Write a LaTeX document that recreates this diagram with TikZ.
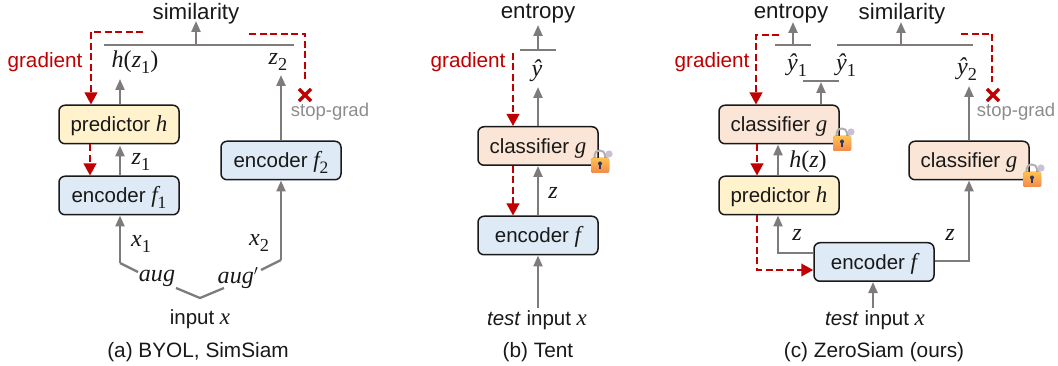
\documentclass[tikz,border=0pt]{standalone}
\usepackage{fontspec}
\usepackage{graphicx}
\setmainfont{Liberation Sans}
\newfontfamily\mfont{Liberation Serif}[Scale=1.12]
\newcommand{\mi}[1]{{\mfont\itshape #1}}
\newcommand{\mup}[1]{{\mfont #1}}
\newcommand{\msub}[2]{\mi{#1}\raisebox{-.28em}{\scalebox{.76}{\mup{#2}}}}
\usetikzlibrary{arrows.meta,shapes.misc}
\definecolor{linegray}{HTML}{7F7B7B}
\definecolor{gradred}{HTML}{C00000}
\definecolor{stopgray}{HTML}{8C8C8C}
\definecolor{predfill}{HTML}{FFF2CC}
\definecolor{encfill}{HTML}{DEEAF6}
\definecolor{clsfill}{HTML}{FBE5D6}
\definecolor{locktop}{HTML}{FFC24F}
\definecolor{lockbot}{HTML}{F5874A}
\definecolor{lockkey}{HTML}{C9C0D8}
\definecolor{lockring}{HTML}{B5AEB0}
\definecolor{lockhole}{HTML}{2F3560}
\tikzset{
  box/.style={draw=black!90,line width=1.5pt,rounded corners=6pt,minimum width=120pt,minimum height=38.5pt,inner sep=0pt,text height=17pt,text depth=2pt,font=\fontsize{20.5}{22}\selectfont,text=black!90},
  predbox/.style={box,fill=predfill},
  encbox/.style={box,fill=encfill},
  clsbox/.style={box,fill=clsfill},
  grayarrow/.style={draw=linegray,line width=2.3pt,-{Triangle[length=11pt,width=9pt]}},
  grayline/.style={draw=linegray,line width=2.3pt},
  redarrow/.style={draw=gradred,line width=2.2pt,dash pattern=on 7pt off 3.5pt,-{Triangle[length=12pt,width=12.5pt]}},
  redline/.style={draw=gradred,line width=2.2pt,dash pattern=on 7pt off 3.5pt},
  toptext/.style={inner sep=0pt,font=\fontsize{22.3}{24}\selectfont,text=black!90},
  gradtext/.style={inner sep=0pt,font=\fontsize{20.7}{22}\selectfont,text=gradred},
  stoptext/.style={inner sep=0pt,font=\fontsize{18.5}{21}\selectfont,text=stopgray},
  inputtext/.style={inner sep=0pt,font=\fontsize{20.5}{22}\selectfont,text=black!90},
  captext/.style={inner sep=0pt,font=\fontsize{20.8}{22}\selectfont,text=black!90},
  mathlabel/.style={inner sep=0pt,font=\fontsize{21.5}{23}\selectfont,text=black!90},
  crossmark/.style={cross out,draw=gradred,line width=3.2pt,minimum size=9pt,inner sep=0pt},
  lockicon/.pic={
    \fill[lockkey] (18,-4) circle (3.6);
    \draw[lockkey,line width=2pt] (16,-1) -- (13,2);
    \draw[lockring,line width=2pt] (3.5,2) -- (3.5,-3) .. controls (3.5,-9) and (14,-9) .. (14,-3) -- (14,2);
    \fill[rounded corners=1.5pt,top color=locktop,bottom color=lockbot] (0,0) rectangle (18,15);
    \fill[lockhole] (9,5.5) circle (2);
    \fill[lockhole] (8,6) rectangle (10,11.5);
  }
}
\begin{document}
\begin{tikzpicture}[x=1pt,y=-1pt]
\useasboundingbox (0,0) rectangle (1058,366);
% ---------- panel a
\node[predbox] (preda) at (119,124.5) {predictor \mi{h}};
\node[encbox] (enca) at (119,195.5) {encoder \msub{f}{1}};
\node[encbox] (encb) at (281,160.5) {encoder \msub{f}{2}};
\node[toptext] (sima) at (196,14) {similarity};
\node[mathlabel] (hz) at (135,62) {\mi{h}\mup{(}\msub{z}{1}\mup{)}};
\node[mathlabel] (ztwo) at (278,62) {\msub{z}{2}};
\node[mathlabel] (zone) at (141,162) {\msub{z}{1}};
\node[mathlabel] (xone) at (141,244) {\msub{x}{1}};
\node[mathlabel] (xtwo) at (259,243) {\msub{x}{2}};
\node[mathlabel] (auga) at (157,278) {\mi{aug}};
\node[mathlabel] (augb) at (238,278) {\mi{aug}$'$};
\node[inputtext] (inputa) at (200,319) {input \mi{x}};
\node[captext] (capa) at (198,352) {(a) BYOL, SimSiam};
\node[gradtext] (grada) at (45,62) {gradient};
\node[stoptext] (stopa) at (330,112) {stop-grad};
\node[crossmark] (crossa) at (305,95) {};
\coordinate (barAl) at (104,45);
\coordinate (barAr) at (294,45);
\coordinate (barAm) at (196,45);
\coordinate (augAa) at (138,272);
\coordinate (augAb) at (120,263);
\coordinate (augBa) at (176,288);
\coordinate (augBb) at (200,298);
\coordinate (augBc) at (224,288);
\coordinate (augCa) at (261,270);
\coordinate (augCb) at (281,260);
\draw[grayline] (barAl) -- (barAr);
\draw[grayarrow] (barAm) -- (196,21);
\draw[grayarrow] (preda.north -| 120,0) -- (120,79);
\draw[grayarrow] (enca.north -| 120,0) -- (120,145.5);
\draw[grayarrow] (encb.north) -- (281,75);
\draw[grayline] (augAa) -- (augAb);
\draw[grayarrow] (augAb) -- (enca.south -| augAb);
\draw[grayline] (augBa) -- (augBb) -- (augBc);
\draw[grayline] (augCa) -- (augCb);
\draw[grayarrow] (augCb) -- (encb.south);
\draw[redarrow] (143,32) -- (91,32) -- (preda.north -| 91,0);
\draw[redarrow] (preda.south -| 90,0) -- (enca.north -| 90,0);
\draw[redline] (249,34) -- (305,34) -- (crossa.north |- 0,82);
% ---------- panel b
\node[clsbox] (clsb) at (538,146) {classifier \mi{g}};
\node[encbox] (encc) at (538,235.5) {encoder \mi{f}};
\node[toptext] (entb) at (538,14) {entropy};
\node[mathlabel] (yb) at (537,71) {\mi{ŷ}};
\node[mathlabel] (zb) at (553,193) {\mi{z}};
\node[gradtext] (gradb) at (468,62) {gradient};
\node[inputtext] (inputb) at (537,320) {\textit{test} input \mi{x}};
\node[captext] (capb) at (538,352) {(b) Tent};
\coordinate (barBl) at (520,50);
\coordinate (barBr) at (556,50);
\draw[grayline] (barBl) -- (barBr);
\draw[grayarrow] (538,50) -- (538,25);
\draw[grayarrow] (clsb.north) -- (538,87);
\draw[grayarrow] (encc.north) -- (clsb.south);
\draw[grayarrow] (538,308) -- (encc.south);
\draw[redarrow] (513,53) -- (clsb.north -| 513,0);
\draw[redarrow] (clsb.south -| 513,0) -- (encc.north -| 513,0);
\pic at (591,158) {lockicon};
% ---------- panel c
\node[clsbox] (clsc) at (779,124.5) {classifier \mi{g}};
\node[predbox] (predc) at (779,195.5) {predictor \mi{h}};
\node[encbox] (encd) at (874,262) {encoder \mi{f}};
\node[clsbox] (clsd) at (969,160.5) {classifier \mi{g}};
\node[toptext] (entc) at (791,14) {entropy};
\node[toptext] (simc) at (902,14) {similarity};
\node[mathlabel] (ya) at (797,65) {\msub{ŷ}{1}};
\node[mathlabel] (yc) at (846,65) {\msub{ŷ}{1}};
\node[mathlabel] (yd) at (967,69) {\msub{ŷ}{2}};
\node[mathlabel] (hzc) at (808,162) {\mi{h}\mup{(}\mi{z}\mup{)}};
\node[mathlabel] (zc) at (797,235) {\mi{z}};
\node[mathlabel] (zd) at (950,235) {\mi{z}};
\node[gradtext] (gradc) at (712,62) {gradient};
\node[stoptext] (stopc) at (1016,112) {stop-grad};
\node[crossmark] (crossc) at (993,95) {};
\node[inputtext] (inputc) at (875,320) {\textit{test} input \mi{x}};
\node[captext] (capc) at (874,352) {(c) ZeroSiam (ours)};
\draw[grayline] (775,45) -- (811,45);
\draw[grayarrow] (793,45) -- (793,22);
\draw[grayline] (837,45) -- (973,45);
\draw[grayarrow] (901,45) -- (901,22);
\draw[grayline] (803,81) -- (839,81);
\draw[grayarrow] (clsc.north -| 821,0) -- (821,82);
\draw[grayarrow] (predc.north -| 778,0) -- (clsc.south -| 778,0);
\draw[grayarrow] (encd.west |- 0,253) -- (778,253) -- (predc.south -| 778,0);
\draw[grayarrow] (encd.east |- 0,261) -- (969,261) -- (clsd.south);
\draw[grayarrow] (clsd.north) -- (969,86);
\draw[grayarrow] (873,308) -- (encd.south -| 873,0);
\draw[redarrow] (779,35) -- (756,35) -- (clsc.north -| 756,0);
\draw[redarrow] (clsc.south -| 757,0) -- (predc.north -| 757,0);
\draw[redarrow] (predc.south -| 757,0) -- (757,270) -- (encd.west |- 0,270);
\draw[redline] (961,34) -- (992,34) -- (992,82);
\pic at (833,136) {lockicon};
\pic at (1023,172) {lockicon};
\end{tikzpicture}
\end{document}
